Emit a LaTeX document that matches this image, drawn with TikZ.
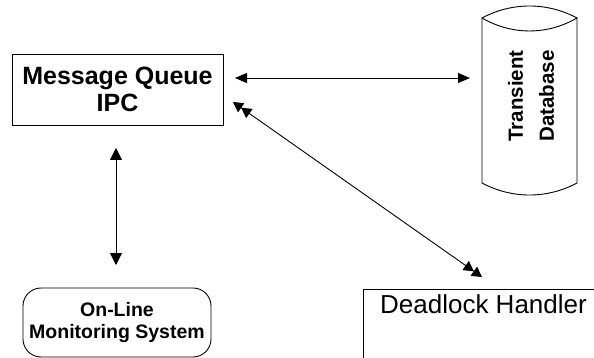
\documentclass[tikz,border=0pt]{standalone}
\usepackage{fontspec}
\setmainfont{Liberation Sans}
\usetikzlibrary{arrows.meta,calc}
\begin{document}
\begin{tikzpicture}[x=1pt,y=-1pt,
  line/.style={draw=black,line width=0.9pt},
  box/.style={line,inner sep=0pt,outer sep=0pt},
  arr/.style={line,{Triangle[length=12pt,width=12pt]}-{Triangle[length=12pt,width=12pt]}},
  harr/.style={line,{Triangle[length=12pt,width=10pt]}-{Triangle[length=12pt,width=10pt]}},
  darr/.style={line,{Triangle[length=10pt,width=11pt]Triangle[length=10pt,width=11pt]}-{Triangle[length=10pt,width=11pt]Triangle[length=10pt,width=11pt]}},
  bigbold/.style={font=\fontsize{25}{27}\selectfont\bfseries},
  midbold/.style={font=\fontsize{20.5}{31}\selectfont\bfseries},
  smallbold/.style={font=\fontsize{19.5}{21}\selectfont\bfseries},
  bigreg/.style={font=\fontsize{26}{28}\selectfont}
]
\useasboundingbox (0,0) rectangle (594,358);
\fill[white] (0,0) rectangle (594,358);

% Message Queue IPC
\node[box,minimum width=211pt,minimum height=71pt,align=center,bigbold] (mq) at (117.5,89.5) {Message Queue\\IPC};

% Transient Database cylinder
\node[inner sep=0pt,outer sep=0pt,minimum width=95pt,minimum height=189pt] (db) at (529.5,100.5) {};
\draw[line] ([yshift=-12pt]db.north west) .. controls +(30,-16) and +(-30,-16) .. ([yshift=-12pt]db.north east)
  .. controls +(-30,17.3) and +(30,17.3) .. ([yshift=-12pt]db.north west)
  -- ([yshift=12pt]db.south west) .. controls +(30,16) and +(-30,16) .. ([yshift=12pt]db.south east)
  -- ([yshift=-12pt]db.north east);
\node[rotate=90,align=center,midbold,inner sep=0pt] (dbtext) at (531,96) {Transient\\Database};

% On-Line Monitoring System
\node[box,rounded corners=18pt,minimum width=188pt,minimum height=69pt,align=center,smallbold] (mon) at (117,322.5) {On-Line\\Monitoring System};

% Deadlock Handler
\begin{scope}
\clip (0,0) rectangle (594,358);
\node[box,minimum width=260pt,minimum height=100pt] (dh) at (493,339) {};
\end{scope}
\node[bigreg,inner sep=0pt] (dhtext) at (483.5,304) {Deadlock Handler};

% connectors
\draw[harr] ([xshift=12pt,yshift=11.5pt]mq.east) -- ([xshift=-12pt,yshift=22.5pt]db.west);
\draw[darr] ([xshift=10pt,yshift=-12.5pt]mq.east) -- ([xshift=-11pt,yshift=12pt]dh.north);
\draw[arr] ([xshift=-1.5pt,yshift=-23pt]mq.south) -- ([xshift=-1pt,yshift=23pt]mon.north);
\end{tikzpicture}
\end{document}
